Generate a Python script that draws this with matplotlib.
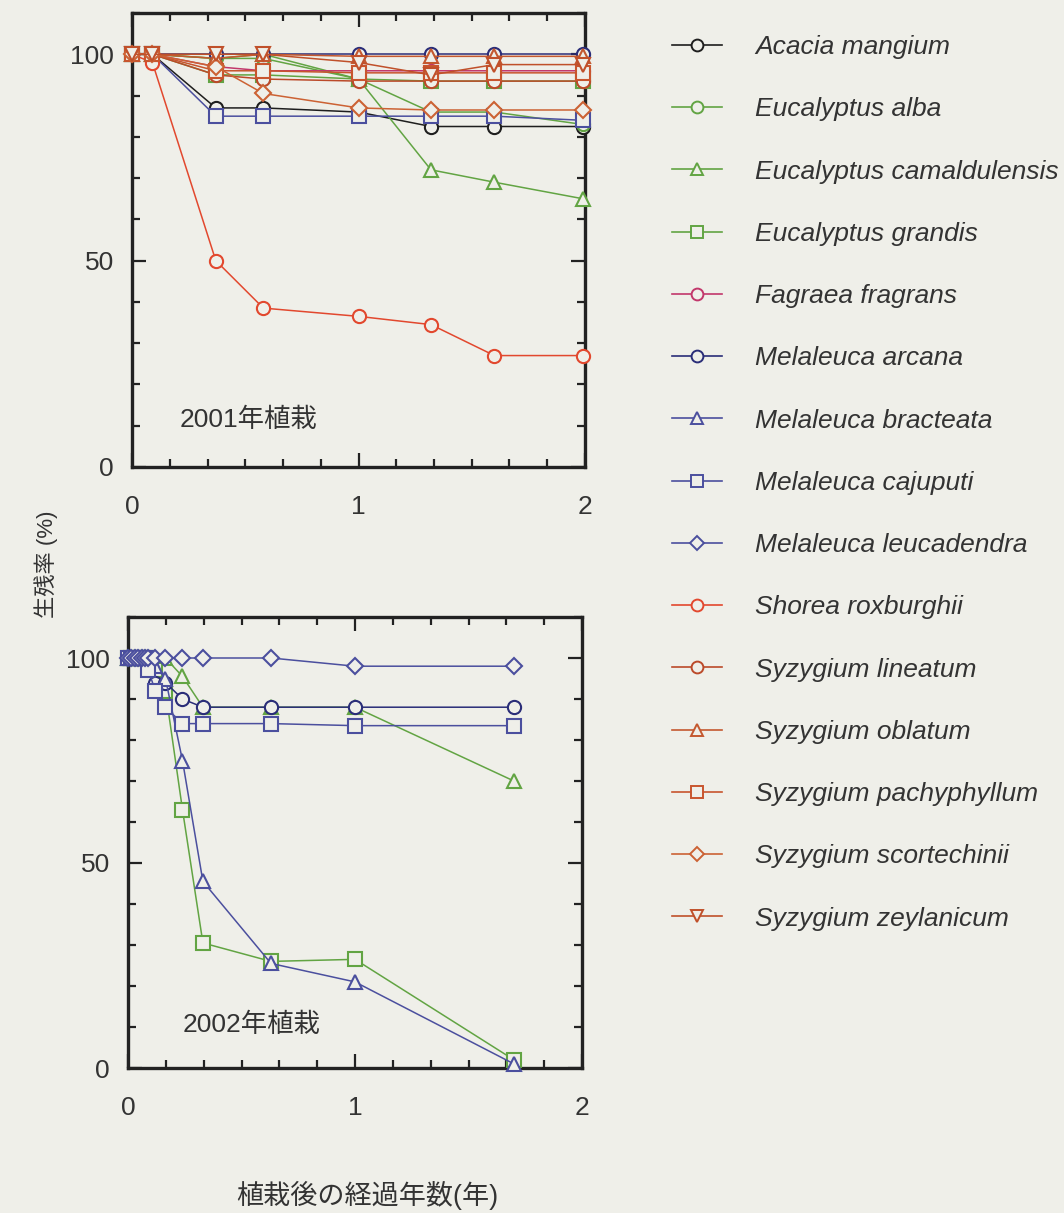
import matplotlib
matplotlib.use("Agg")
import matplotlib.pyplot as plt
from matplotlib.lines import Line2D
from matplotlib.ticker import MultipleLocator, FixedLocator

# ---------------- data ----------------
species = [
    "Acacia mangium", "Eucalyptus alba", "Eucalyptus camaldulensis",
    "Eucalyptus grandis", "Fagraea fragrans", "Melaleuca arcana",
    "Melaleuca bracteata", "Melaleuca cajuputi", "Melaleuca leucadendra",
    "Shorea roxburghii", "Syzygium lineatum", "Syzygium oblatum",
    "Syzygium pachyphyllum", "Syzygium scortechinii", "Syzygium zeylanicum",
]
colors = ["#1e1e1e", "#62a443", "#62a443", "#62a443", "#c2376b", "#2a2d78",
          "#4b4f9e", "#4b4f9e", "#4b4f9e", "#e2482e", "#bb4a2a", "#c4582f",
          "#c8552e", "#cc6234", "#c0502a"]
markers = ["o", "o", "^", "s", "o", "o", "^", "s", "D", "o", "o", "^", "s", "D", "v"]

# 2001 planting (years after planting)
x2001 = [0, 0.09, 0.37, 0.58, 1.0, 1.32, 1.6, 1.99]
y2001 = {
    "Acacia mangium":           [100, 100, 87, 87, 86, 82.5, 82.5, 82.5],
    "Eucalyptus alba":          [100, 100, 99, 99, 94, 86, 86, 83],
    "Eucalyptus camaldulensis": [100, 100, 99, 100, 94, 72, 69, 65],
    "Eucalyptus grandis":       [100, 100, 95, 95, 94, 93.5, 93.5, 93.5],
    "Fagraea fragrans":         [100, 100, 97, 96, 96, 96, 96, 96],
    "Melaleuca arcana":         [100, 100, 100, 100, 100, 100, 100, 100],
    "Melaleuca cajuputi":       [100, 100, 85, 85, 85, 85, 85, 84],
    "Shorea roxburghii":        [100, 98, 50, 38.5, 36.5, 34.5, 27, 27],
    "Syzygium lineatum":        [100, 100, 95, 94, 93.5, 93.5, 93.5, 93.5],
    "Syzygium oblatum":         [100, 100, 99, 100, 99.5, 99.5, 99.5, 99.5],
    "Syzygium pachyphyllum":    [100, 100, 96, 96, 95.5, 95.5, 95.5, 95.5],
    "Syzygium scortechinii":    [100, 100, 97, 90.5, 87, 86.5, 86.5, 86.5],
    "Syzygium zeylanicum":      [100, 100, 100, 100, 98, 95, 97.5, 97.5],
}

# 2002 planting
x2002 = [0, 0.015, 0.03, 0.045, 0.06, 0.075, 0.09, 0.12, 0.165, 0.24, 0.33, 0.63, 1.0, 1.70]
y2002 = {
    "Eucalyptus camaldulensis": [100, 100, 100, 100, 100, 100, 100, 100, 100, 95.5, 88, 88, 88, 70],
    "Eucalyptus grandis":       [100, 100, 100, 100, 100, 100, 100, 97, 92, 63, 30.5, 26, 26.5, 2],
    "Melaleuca arcana":         [100, 100, 100, 100, 100, 100, 100, 94, 94, 90, 88, 88, 88, 88],
    "Melaleuca bracteata":      [100, 100, 100, 100, 100, 100, 100, 98, 95, 75, 45.5, 25.5, 21, 1],
    "Melaleuca cajuputi":       [100, 100, 100, 100, 100, 100, 97, 92, 88, 84, 84, 84, 83.5, 83.5],
    "Melaleuca leucadendra":    [100, 100, 100, 100, 100, 100, 100, 100, 100, 100, 100, 100, 98, 98],
}

panel_labels = ["2001年植栽", "2002年植栽"]
ylabel = "生残率 (%)"
xlabel = "植栽後の経過年数(年)"

# ---------------- style ----------------
bg = "#efefe9"
latin = "Liberation Sans"
cjk = "Noto Sans CJK JP"
plt.rcParams["font.family"] = [latin, cjk, "DejaVu Sans"]

W, H = 1064, 1213
fig = plt.figure(figsize=(W / 100, H / 100), dpi=100, facecolor=bg)

def px_axes(l, t, r, b):
    return fig.add_axes([l / W, 1 - b / H, (r - l) / W, (b - t) / H])

ax1 = px_axes(132, 13, 585, 467)
ax2 = px_axes(128, 617, 582, 1068)

def style(ax):
    ax.set_facecolor(bg)
    ax.set_xlim(0, 2)
    ax.set_ylim(0, 110)
    ax.xaxis.set_major_locator(FixedLocator([0, 1, 2]))
    ax.xaxis.set_minor_locator(MultipleLocator(1 / 6))
    ax.yaxis.set_major_locator(FixedLocator([0, 50, 100]))
    ax.yaxis.set_minor_locator(MultipleLocator(10))
    ax.tick_params(which="both", direction="in", top=True, right=True,
                   width=1.6, color="#222222")
    ax.tick_params(which="major", length=10, labelsize=19, pad=13,
                   labelcolor="#333333")
    ax.tick_params(axis="x", which="major", pad=20)
    ax.tick_params(which="minor", length=6)
    for s in ax.spines.values():
        s.set_linewidth(2.4)
        s.set_color("#222222")

style(ax1)
style(ax2)

def draw(ax, xs, data):
    for name, c, m in zip(species, colors, markers):
        if name not in data:
            continue
        ms = 9.5 if m != "D" else 8
        ax.plot(xs, data[name], color=c, marker=m, ms=ms, mfc=bg, mec=c,
                mew=1.5, lw=1.1, clip_on=False, zorder=3)

draw(ax1, x2001, y2001)
draw(ax2, x2002, y2002)

ax1.text(0.106, 0.104, panel_labels[0], transform=ax1.transAxes, fontsize=19,
         va="center", ha="left", color="#333333")
ax2.text(0.121, 0.095, panel_labels[1], transform=ax2.transAxes, fontsize=19,
         va="center", ha="left", color="#333333")

fig.text(46 / W, 1 - 564 / H, ylabel, rotation=90, ha="center", va="center",
         fontsize=16, color="#333333")
fig.text(367 / W, 1 - 1195 / H, xlabel, ha="center", va="center",
         fontsize=19.5, color="#333333")

handles = [Line2D([], [], color=c, marker=m, ms=(8.5 if m != "D" else 7), mfc=bg,
                  mec=c, mew=1.4, lw=1.2) for c, m in zip(colors, markers)]
fig.legend(handles, species, loc="upper left",
           bbox_to_anchor=(672 / W, 1 - 35 / H), frameon=False,
           borderpad=0, borderaxespad=0, handlelength=1.9, handletextpad=1.25,
           labelspacing=1.45,
           prop={"family": latin, "style": "italic", "size": 19},
           labelcolor="#333333")

fig.savefig("out.png", dpi=100, facecolor=bg)
